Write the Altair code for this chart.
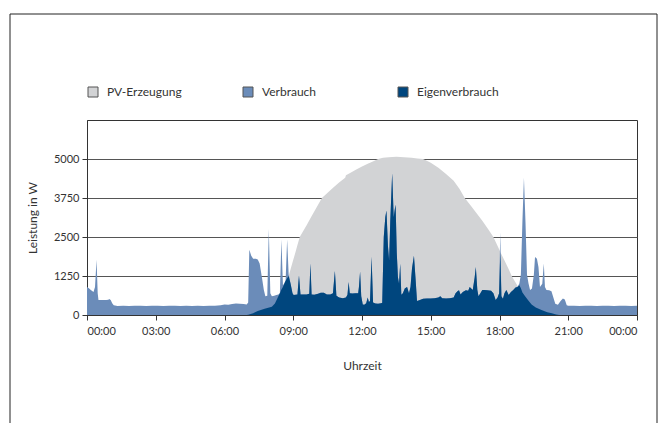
import altair as alt
import pandas as pd

# ---------------- data (time in minutes after midnight, power in W) ----------------
zeit_verbrauch = [
    0, 5, 10, 17, 21, 25, 28, 30, 40, 50, 56, 58, 62, 66, 70, 80, 95, 110, 125, 140,
    155, 170, 185, 200, 215, 230, 245, 260, 275, 290, 305, 320, 335, 350, 360, 370,
    380, 390, 400, 410, 418, 422, 425, 430, 435, 442, 447, 452, 458, 463, 467, 472,
    476, 480, 484, 490, 496, 501, 505, 509, 513, 516, 520, 524, 528, 533, 538,
    541, 546, 551, 555, 559, 565, 575, 582, 585, 588, 595, 605, 612, 620, 628, 637,
    644, 649, 653, 660, 670, 678, 682, 685, 688, 695, 703, 710, 712, 715, 718, 722,
    726, 731, 735, 738, 741, 745, 749, 755, 762, 770, 773, 777, 781, 784, 788, 791,
    794, 799, 803, 806, 808, 811, 814, 817, 820, 823, 827, 832, 838, 843, 847, 851,
    856, 860, 864, 870, 880, 890, 900, 910, 920, 925, 930, 940, 950, 960, 965, 970,
    974, 978, 984, 992, 998, 1002, 1010, 1015, 1018, 1022, 1025, 1030, 1035, 1040,
    1048, 1058, 1064, 1070, 1075, 1079,
    1082, 1085, 1089, 1093, 1098, 1104, 1110, 1116, 1122, 1127, 1132, 1136, 1140,
    1144, 1148, 1152, 1156, 1160, 1165, 1170, 1173, 1178, 1182, 1186, 1192, 1196,
    1199, 1203, 1210, 1216, 1221, 1226, 1233, 1240, 1246, 1251, 1256, 1260, 1275,
    1290, 1305, 1320, 1335, 1350, 1365, 1380, 1395, 1410, 1425, 1440,
]
verbrauch = [
    900, 860, 800, 740, 900, 1770, 700, 480, 480, 480, 490, 510, 480, 380, 310, 290, 295, 290, 300, 295,
    290, 300, 295, 290, 295, 300, 290, 295, 290, 300, 290, 295, 300, 310, 340, 330,
    350, 370, 360, 350, 340, 400, 2090, 1900, 1800, 1800, 1780, 1650, 1200, 800, 600, 620,
    2760, 700, 600, 620, 640, 660, 700, 2420, 950, 1000, 1100, 2420, 1300, 1000, 700,
    640, 650, 660, 1270, 660, 660, 660, 680, 1650, 660, 650, 680, 710, 710, 660, 660,
    700, 1410, 620, 560, 540, 560, 650, 1060, 700, 690, 700, 700, 900, 1390, 600, 340,
    330, 380, 560, 420, 450, 1870, 400, 370, 360, 380, 390, 2500, 3130, 3350, 2200, 1750,
    3000, 4540, 3130, 3400, 3530, 2000, 1220, 1000, 1640, 650, 700, 850, 900, 700, 900, 1500,
    1900, 1200, 450, 470, 520, 530, 530, 540, 560, 600, 540, 530, 540, 560, 700, 760,
    790, 660, 740, 790, 780, 900, 800, 1200, 1540, 800, 600, 700, 800, 800,
    790, 780, 700, 480, 560, 700,
    2650, 600, 520, 700, 800, 640, 740, 800, 880, 900, 1010, 1300, 3000,
    4400, 3000, 1300, 1010, 800, 850, 1300, 1860, 1800, 1540, 900, 1000, 1650,
    900, 800, 790, 760, 560, 360, 330, 450, 530, 500, 310, 300, 295,
    290, 300, 295, 290, 300, 295, 290, 300, 295, 290, 295,
]

zeit_pv = [
    418, 435, 447, 465, 484, 492, 501, 510, 520, 528, 533, 538, 546, 551, 557, 565,
    575, 585, 595, 605, 615, 630, 645, 660, 676, 678, 690, 705, 720, 735, 750, 762,
    775, 790, 810, 830, 850, 865, 880, 900, 920, 940, 960, 975, 989, 1005, 1020, 1035,
    1050, 1064, 1075, 1085, 1095, 1105, 1112, 1120, 1129, 1140, 1147, 1155, 1164, 1175,
    1190, 1205, 1217, 1228, 1236,
]
pv = [
    0, 60, 127, 200, 265, 370, 600, 850, 1100, 1250, 1465, 1680, 2020, 2240, 2500, 2670,
    2880, 3100, 3320, 3530, 3750, 3920, 4090, 4250, 4400, 4480, 4560, 4660, 4760, 4850, 4930, 5000,
    5040, 5060, 5070, 5060, 5040, 5020, 5000, 4880, 4720, 4520, 4300, 4050, 3750, 3500, 3260, 3020,
    2760, 2500, 2210, 1950, 1700, 1440, 1250, 1080, 900, 720, 600, 470, 340, 240,
    160, 90, 55, 20, 0,
]

# Eigenverbrauch: morning and evening edges read separately; in between it equals Verbrauch
zeit_eigen_morgen = [418, 422, 435, 447, 465, 484, 492, 501, 505, 509, 513, 520, 524, 528, 533, 538]
eigen_morgen = [0, 10, 60, 127, 200, 265, 370, 600, 700, 820, 900, 1100, 1180, 1250, 1000, 700]
zeit_eigen_abend = [1082, 1085, 1089, 1093, 1098, 1104, 1110, 1116, 1122, 1127, 1132, 1136, 1140,
                    1147, 1155, 1164, 1175, 1190, 1205, 1217, 1228, 1236]
eigen_abend = [2000, 600, 520, 700, 800, 640, 740, 800, 880, 900, 950, 860, 720,
               600, 470, 340, 240, 160, 90, 55, 20, 0]

serien = ["PV-Erzeugung", "Verbrauch", "Eigenverbrauch"]
farben = ["#d2d3d5", "#6b8cb9", "#00467e"]
x_ticks = [0, 180, 360, 540, 720, 900, 1080, 1260, 1440]
y_ticks = [0, 1250, 2500, 3750, 5000]

# ---------------- tables ----------------
df_pv = pd.DataFrame({"t": zeit_pv, "w": pv, "serie": serien[0]})
df_v = pd.DataFrame({"t": zeit_verbrauch, "w": verbrauch, "serie": serien[1]})
mitte = [(t, w) for t, w in zip(zeit_verbrauch, verbrauch) if 541 <= t <= 1079]
zeit_e = zeit_eigen_morgen + [t for t, _ in mitte] + zeit_eigen_abend
werte_e = eigen_morgen + [w for _, w in mitte] + eigen_abend
df_e = pd.DataFrame({"t": zeit_e, "w": werte_e, "serie": serien[2]})

FONT = "Lato"
TXT = "#333333"

x_enc = alt.X(
    "t:Q",
    scale=alt.Scale(domain=[0, 1440], nice=False, zero=False),
    axis=alt.Axis(
        values=x_ticks,
        labelExpr="timeFormat(datetime(2000, 0, 1, 0, datum.value), '%H:%M')",
        title="Uhrzeit",
        grid=False,
        tickSize=5,
        labelPadding=5,
        titlePadding=24,
        labelFontSize=11,
        titleFontSize=12,
    ),
)
y_enc = alt.Y(
    "w:Q",
    stack=None,
    scale=alt.Scale(domain=[0, 6250], nice=False),
    axis=alt.Axis(
        values=y_ticks,
        format="d",
        title="Leistung in W",
        grid=True,
        tickSize=5,
        labelPadding=3,
        titlePadding=14,
        labelFontSize=11,
        titleFontSize=12,
    ),
)
color_enc = alt.Color(
    "serie:N",
    scale=alt.Scale(domain=serien, range=farben),
    legend=alt.Legend(
        title=None,
        orient="none",
        legendX=0,
        legendY=-34,
        direction="horizontal",
        columns=3,
        gridAlign="all",
        columnPadding=52,
        symbolType="square",
        symbolSize=100,
        symbolStrokeColor="#555555",
        symbolStrokeWidth=1,
        labelFontSize=12,
        labelFont=FONT,
        labelColor=TXT,
        labelOffset=8,
        padding=0,
    ),
)


def flaeche(df):
    return alt.Chart(df).mark_area(interpolate="linear").encode(x=x_enc, y=y_enc, color=color_enc)


one = pd.DataFrame({"a": [0]})
rahmen_l = alt.Chart(one).mark_rule(color="#222222", strokeWidth=1).encode(
    x=alt.value(-77), y=alt.value(-106), y2=alt.value(320))
rahmen_o = alt.Chart(one).mark_rule(color="#222222", strokeWidth=1).encode(
    x=alt.value(-77), x2=alt.value(570), y=alt.value(-106))
rahmen_r = alt.Chart(one).mark_rule(color="#222222", strokeWidth=1).encode(
    x=alt.value(570), y=alt.value(-106), y2=alt.value(320))

chart = (
    alt.layer(flaeche(df_pv), flaeche(df_v), flaeche(df_e), rahmen_l, rahmen_o, rahmen_r)
    .properties(
        width=550,
        height=195,
        padding={"left": 79, "top": 112, "right": 22, "bottom": 108},
        autosize=alt.AutoSizeParams(type="none"),
        background="white",
    )
    .configure_view(stroke="#333333", strokeWidth=1)
    .configure_axis(
        labelFont=FONT,
        titleFont=FONT,
        labelColor=TXT,
        titleColor=TXT,
        titleFontWeight="normal",
        domainColor="#333333",
        tickColor="#333333",
        gridColor="#555555",
        gridWidth=1,
    )
)

chart.save("out.html", embed_options={"renderer": "svg", "actions": False})
